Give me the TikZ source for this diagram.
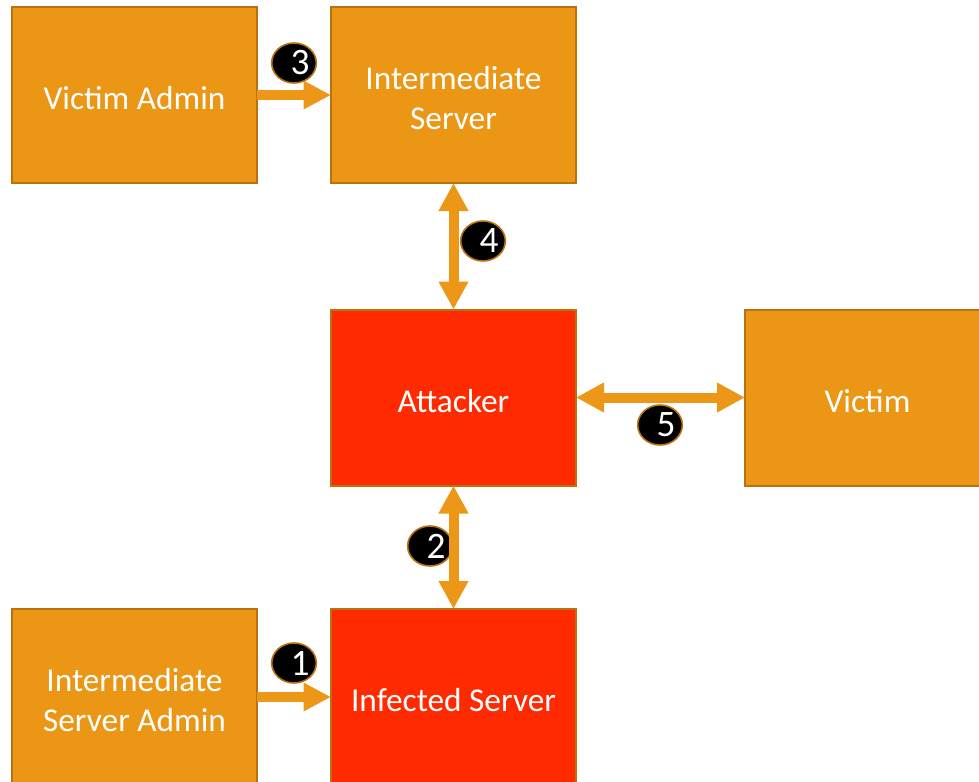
\documentclass[tikz,border=0pt]{standalone}
\usepackage{fontspec}
\setmainfont{Carlito}
\usetikzlibrary{arrows.meta,shapes.geometric}
\definecolor{boxorange}{HTML}{EB9615}
\definecolor{boxred}{HTML}{FF2A00}
\definecolor{boxedge}{HTML}{B9720F}
\definecolor{flow}{HTML}{EC9718}
\newcommand{\toppad}{\rule{0pt}{22pt}}
\tikzset{
  panel/.style={draw=boxedge, line width=1.5pt, fill=boxorange, minimum width=183.75pt,
    minimum height=132pt, inner sep=0pt, outer sep=0pt, text=white, align=center,
    font=\fontsize{25}{30}\selectfont},
  hot/.style={panel, fill=boxred},
  flowline/.style={draw=flow, line width=7.5pt,
    -{Triangle[length=20.5pt,width=20pt]}},
  flowboth/.style={flowline, {Triangle[length=21pt,width=21pt]}-{Triangle[length=21pt,width=21pt]}},
  badge/.style={ellipse, draw=boxedge, line width=1.2pt, fill=black, text=white,
    minimum width=33.5pt, minimum height=30pt, inner sep=0pt,
    font=\fontsize{28}{28}\selectfont}
}
\begin{document}
\begin{tikzpicture}[x=0.75pt,y=-0.75pt]
  \useasboundingbox (0,0) rectangle (979,782);
  \clip (0,0) rectangle (979,782);

  % boxes
  \node[panel] (vadmin) at (134.5,95) {\toppad Victim Admin};
  \node[panel] (inter) at (453.5,95) {\toppad Intermediate\\Server};
  \node[hot] (att) at (453.5,397.5) {\toppad Attacker};
  \node[panel] (vic) at (867.5,397.5) {\toppad Victim};
  \node[panel] (iadmin) at (134.5,697) {\toppad Intermediate\\Server Admin};
  \node[hot] (inf) at (453.5,697) {\toppad Infected Server};

  % step 2 badge sits below its connector
  \node[badge] (b2) at (430,546) {\hspace*{9pt}2};

  % connectors
  \draw[flowline] (vadmin.east) -- (inter.west);
  \draw[flowline] (iadmin.east) -- (inf.west);
  \draw[flowboth] (inter.south) -- (att.north);
  \draw[flowboth] (att.south) -- (inf.north);
  \draw[flowboth] (att.east) -- (vic.west);

  % remaining step badges
  \node[badge] (b3) at (294,63) {\hspace*{9pt}3};
  \node[badge] (b4) at (483,241) {\hspace*{9pt}4};
  \node[badge] (b5) at (660,425) {\hspace*{9pt}5};
  \node[badge] (b1) at (294,663) {\hspace*{9pt}1};
\end{tikzpicture}
\end{document}
